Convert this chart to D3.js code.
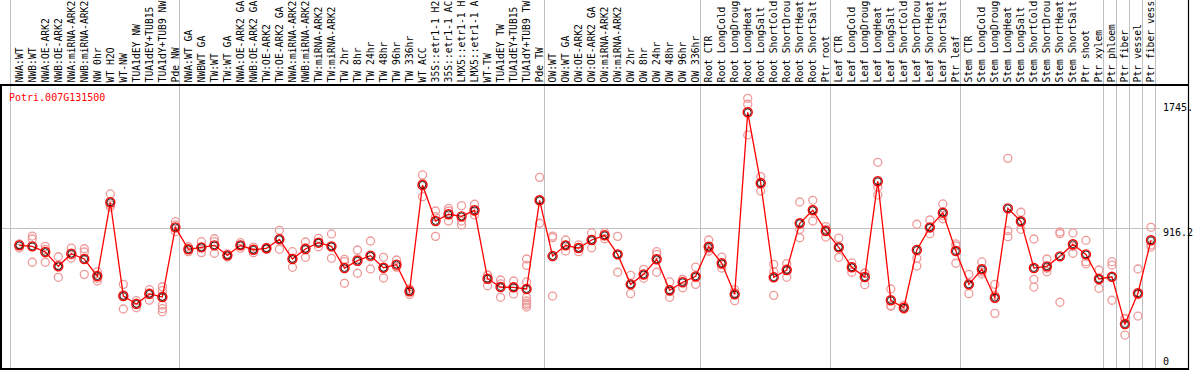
<!DOCTYPE html>
<html><head><meta charset="utf-8">
<script src="https://cdn.jsdelivr.net/npm/d3@7"></script>
<style>html,body{margin:0;padding:0;background:#fff;}svg{display:block;}</style>
</head><body>
<script>
const title = "Potri.007G131500";
const categories = ["NWA:WT","NWB:WT","NWA:OE-ARK2","NWB:OE-ARK2","NWA:miRNA-ARK2","NWB:miRNA-ARK2","NW 0hr","WT H2O","WT-NW","TUA1dEY NW","TUA1dEY+TUB15","TUA1dY+TUB9 NW","Pde NW",
"NWA:WT GA","NWBWT GA","TW:WT","TW:WT GA","NWA:OE-ARK2 GA","NWB:OE-ARK2 GA","TW:OE-ARK2","TW:OE-ARK2 GA","NWA:miRNA-ARK2","NWB:miRNA-ARK2","TW:miRNA-ARK2","TW:miRNA-ARK2","TW 2hr","TW 8hr","TW 24hr","TW 48hr","TW 96hr","TW 336hr","WT ACC","35S::etr1-1 H2","35S::etr1-1 AC","LMX5::etr1-1 H","LMX5::etr1-1 A","WT-TW","TUA1dEY TW","TUA1dEY+TUB15","TUA1dY+TUB9 TW","Pde TW",
"OW:WT","OW:WT GA","OW:OE-ARK2","OW:OE-ARK2 GA","OW:miRNA-ARK2","OW:miRNA-ARK2","OW 2hr","OW 8hr","OW 24hr","OW 48hr","OW 96hr","OW 336hr",
"Root CTR","Root LongCold","Root LongDroug","Root LongHeat","Root LongSalt","Root ShortCold","Root ShortDrou","Root ShortHeat","Root ShortSalt","Ptr root",
"Leaf CTR","Leaf LongCold","Leaf LongDroug","Leaf LongHeat","Leaf LongSalt","Leaf ShortCold","Leaf ShortDrou","Leaf ShortHeat","Leaf ShortSalt","Ptr leaf",
"Stem CTR","Stem LongCold","Stem LongDroug","Stem LongHeat","Stem LongSalt","Stem ShortCold","Stem ShortDrou","Stem ShortHeat","Stem ShortSalt","Ptr shoot","Ptr xylem",
"Ptr phloem","Ptr fiber","Ptr vessel","Ptr fiber vess"];
const meanValues = [800,793,753,651,741,703,582,1106,440,384,455,433,928,
772,786,800,729,800,769,779,843,703,774,819,793,639,691,727,641,663,474,1229,973,1021,1006,1049,563,504,502,490,1120,
724,800,781,838,871,736,523,594,701,481,538,580,
790,673,452,1745,1241,573,625,957,1049,902,
786,644,575,1255,410,357,767,928,1032,760,
523,630,428,1063,971,639,651,722,808,736,561,
577,241,460,836];
const replicateValues = [
[810,781,805],[866,845,680],[793,772,680],[719,573,661],[781,710,732],[776,753,594],[613,566,547],[1165,1087,1072],[523,348,449],[407,357,388],[485,462,410],[506,478,440,376,350,329],[968,945,897],
[790,755,772],[826,748,786],[847,826,744],[739,717,731],[819,779,802],[788,748,771],[786,772,779],[907,772,850],[755,644,710],[824,715,783],[850,790,817],[881,708,790],[701,684,531],[767,602,704],[831,632,718],[715,568,640],[696,648,645],[490,452,480],[1300,1146,1241],[1044,1004,864],[1063,1044,973],[1082,973,945],[1092,1016,1040],[589,513,588],[554,431,527],[547,455,504],[703,658,540,433,405,388,376,362],[1283,957,1120],
[866,855,440],[838,760,802],[803,755,785],[888,783,843],[890,847,876],[864,609,735],[587,457,525],[630,566,586],[755,736,609],[540,431,472],[559,499,556],[646,523,571],
[838,758,774],[717,639,663],[485,407,464],[1844,1802,1584],[1288,1186,1249],[665,613,445],[670,573,632],[1108,914,854],[1120,973,1054],[933,859,914],
[852,715,791],[675,609,648],[602,521,602],[1390,1214,1158],[490,367,373],[374,346,351],[950,708,653],[980,883,921],[1094,989,1013],[810,673,797],
[594,457,518],[682,597,611],[523,317,444],[1418,904,862],[1035,914,964],[845,559,504],[703,613,637],[895,883,396],[888,744,792],[836,684,668],[625,495,563],
[684,660,410],[282,163,278],[632,298,450],[928,803,788]];
const groupBreaks = [0,13,41,53,63,73,84,85,86,87,88];
const axisLabels = ["1745.","916.2","0"];
const axisValues = [1745,916.2,0];
const refLineValue = 916.2;

const W = 1194, H = 370;
const svg = d3.select("body").append("svg").attr("width",W).attr("height",H)
  .style("font-family","'DejaVu Sans Mono', monospace").style("font-size","10px");
svg.append("rect").attr("width",W).attr("height",H).attr("fill","#fff");

const x = d3.scaleBand().domain(d3.range(categories.length)).range([10.3,1155]).paddingInner(0).paddingOuter(0);
const bw = x.bandwidth();
const px = i => x(i) + bw*0.69;
const y = d3.scaleLinear().domain([0,1745]).range([358,112.3]);
const edge = i => i < categories.length ? x(i) : x(categories.length-1)+bw;

// vertical grid lines
svg.append("g").selectAll("line").data(groupBreaks).join("line")
  .attr("x1",d=>Math.round(edge(d))+0.5).attr("x2",d=>Math.round(edge(d))+0.5)
  .attr("y1",0).attr("y2",H).attr("stroke","#c0c0c0").attr("stroke-width",1);
// horizontal ref line
svg.append("line").attr("x1",0).attr("x2",1160)
  .attr("y1",Math.round(y(refLineValue))-0.5).attr("y2",Math.round(y(refLineValue))-0.5)
  .attr("stroke","#c0c0c0").attr("stroke-width",1);

// frame
const fr = svg.append("g").attr("stroke","#000").attr("fill","none");
fr.append("line").attr("x1",0).attr("x2",1189).attr("y1",85).attr("y2",85).attr("stroke-width",2);
fr.append("line").attr("x1",1).attr("x2",1).attr("y1",85).attr("y2",370).attr("stroke-width",2);
fr.append("line").attr("x1",0).attr("x2",1189).attr("y1",369).attr("y2",369).attr("stroke-width",2);
fr.append("line").attr("x1",1188.5).attr("x2",1188.5).attr("y1",0).attr("y2",370).attr("stroke-width",1.2);

// category labels
svg.append("g").selectAll("text").data(categories).join("text")
  .attr("transform",(d,i)=>`translate(${x(i)+12.2},82.4) rotate(-90)`)
  .attr("text-anchor","start").attr("fill","#000").style("font-size","9.7px").text(d=>d);

// title
svg.append("text").attr("x",9).attr("y",101).attr("fill","#ff0000").text(title);

// right axis labels
const offs = [-1, 7.4, 7.3];
svg.append("g").selectAll("text").data(axisValues).join("text")
  .attr("x",1163).attr("y",(d,i)=>y(d)+offs[i]).attr("fill","#000").text((d,i)=>axisLabels[i]);

// replicates
const reps = [];
replicateValues.forEach((arr,i)=>arr.forEach(v=>reps.push({i,v})));
svg.append("g").selectAll("circle").data(reps).join("circle")
  .attr("cx",d=>px(d.i)).attr("cy",d=>y(d.v)).attr("r",4)
  .attr("fill","none").attr("stroke","#ef9a9a").attr("stroke-width",1.3);

// mean line
svg.append("path").datum(meanValues)
  .attr("d",d3.line().x((d,i)=>px(i)).y(d=>y(d)))
  .attr("fill","none").attr("stroke","#ff0000").attr("stroke-width",1.3);

// mean markers
const mg = svg.append("g");
mg.selectAll("circle.o").data(meanValues).join("circle").attr("class","o")
  .attr("cx",(d,i)=>px(i)).attr("cy",d=>y(d)).attr("r",4.5)
  .attr("fill","none").attr("stroke","#ff0000").attr("stroke-width",1.4);
mg.selectAll("circle.in").data(meanValues).join("circle").attr("class","in")
  .attr("cx",(d,i)=>px(i)).attr("cy",d=>y(d)).attr("r",3.4)
  .attr("fill","none").attr("stroke","#000").attr("stroke-width",0.8);
</script>
</body></html>
